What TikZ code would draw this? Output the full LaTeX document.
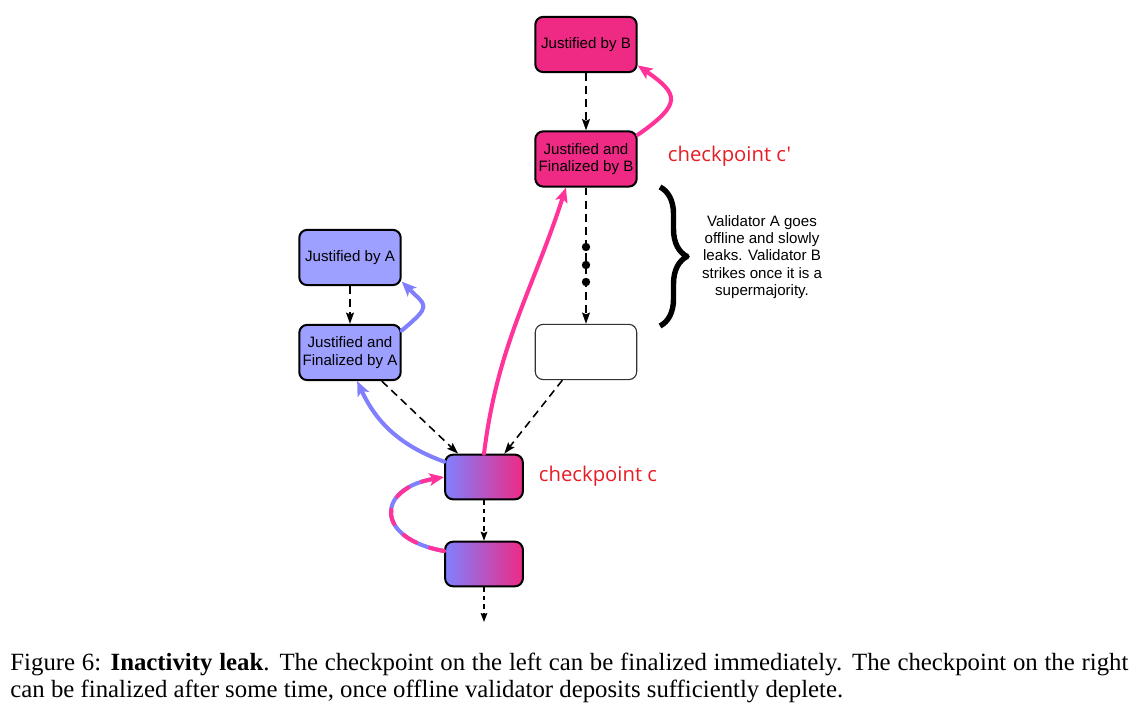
\documentclass[tikz,border=0pt]{standalone}
\usepackage{fontspec}
\setmainfont{Liberation Serif}
\setsansfont{Liberation Sans}
\newfontfamily\ckfont{Open Sans}
\usetikzlibrary{arrows.meta,decorations.pathreplacing}
\definecolor{pinkBox}{RGB}{238,42,133}
\definecolor{blueBox}{RGB}{158,160,255}
\definecolor{pinkArr}{RGB}{255,51,153}
\definecolor{blueArr}{RGB}{128,128,255}
\definecolor{ckRed}{RGB}{232,28,36}
\begin{document}
\begin{tikzpicture}[x=0.0156cm,y=0.0156cm,font=\sffamily\fontsize{6.7}{7.7}\selectfont,line join=round,
    box/.style={draw,line width=0.9pt,rounded corners=3.5pt,minimum width=45pt,minimum height=24.5pt,align=center,inner sep=1pt},
    ckbox/.style={box,minimum width=34.5pt,minimum height=19.8pt,left color=blueArr,right color=pinkBox},
    dasharrow/.style={-{Stealth[length=5pt,width=3.5pt,inset=0.8pt]},line width=0.7pt,dash pattern=on 3.5pt off 2.3pt},
    thinarrow/.style={-{Stealth[length=4pt,width=3pt,inset=0.6pt]},line width=0.5pt,dash pattern=on 2pt off 1.8pt},
    bigarrow/.style={-{Stealth[length=6.5pt,width=5.5pt,inset=1.5pt]},line width=1.8pt,line cap=round},
    ck/.style={text=ckRed,font=\ckfont\fontsize{9}{10}\selectfont,anchor=west},
    caption/.style={anchor=base west,font=\rmfamily\fontsize{11}{13}\selectfont,inner sep=0pt}]
\useasboundingbox (0,0) rectangle (1140,713);
% right chain (B)
\node[box,fill=pinkBox] (jb) at (586,668.5) {Justified by B};
\node[box,fill=pinkBox] (fb) at (586,554) {Justified and\\Finalized by B};
\node[box,draw=black!80,line width=0.5pt] (empty) at (586,361) {};
% left chain (A)
\node[box,fill=blueBox] (ja) at (350,455.5) {Justified by A};
\node[box,fill=blueBox] (fa) at (350,360.5) {Justified and\\Finalized by A};
% checkpoints
\node[ckbox] (c) at (484,236) {};
\node[ckbox] (next) at (484,149) {};
\coordinate (tail) at (484,91);
\node[ck] (cklab) at (531,237) {checkpoint c};
\node[ck] (cklabp) at (660,557) {checkpoint c'};
% parent links
\draw[dasharrow] (jb) -- (fb);
\draw[dasharrow] (ja) -- (fa);
\draw[dasharrow] (fb) -- (empty);
\foreach \h in {466,448,431}
  \fill (586,\h) circle (4.2);
\draw[dasharrow] (fa.-42) -- (c.138);
\draw[dasharrow] (empty.-130) -- (c.49);
\draw[thinarrow] (c) -- (next);
\draw[thinarrow] (next) -- (tail);
% votes
\draw[bigarrow,pinkArr] (fb.25) .. controls +(35:55) and +(-35:50) .. (jb.-22);
\draw[bigarrow,blueArr] (fa.23) .. controls +(40:40) and +(-45:35) .. (ja.-25);
\draw[bigarrow,blueArr] (c.159) to[out=160,in=-65] (fa.-76);
\draw[bigarrow,pinkArr] (c.north) to[out=83,in=-108] (fb.-125);
\draw[line width=1.8pt,blueArr,shorten >=5pt] (next.162) .. controls +(170:70) and +(190:70) .. (c.west);
\draw[bigarrow,pinkArr,dash pattern=on 6.5pt off 6.5pt] (next.162) .. controls +(170:70) and +(190:70) .. (c.west);
% brace
\draw[line width=2.4pt,decorate,decoration={brace,amplitude=12pt}] (660,526) -- (660,387);
\node[align=center] (note) at (762,456) {Validator A goes\\offline and slowly\\leaks. Validator B\\strikes once it is a\\supermajority.};
% caption
\node[caption] (cap1) at (10,42) {\makebox[496pt][s]{Figure 6: \textbf{Inactivity leak}. The checkpoint on the left can be finalized immediately. The checkpoint on the right}};
\node[caption] (cap2) at (10,15) {can be finalized after some time, once offline validator deposits sufficiently deplete.};
\end{tikzpicture}
\end{document}
